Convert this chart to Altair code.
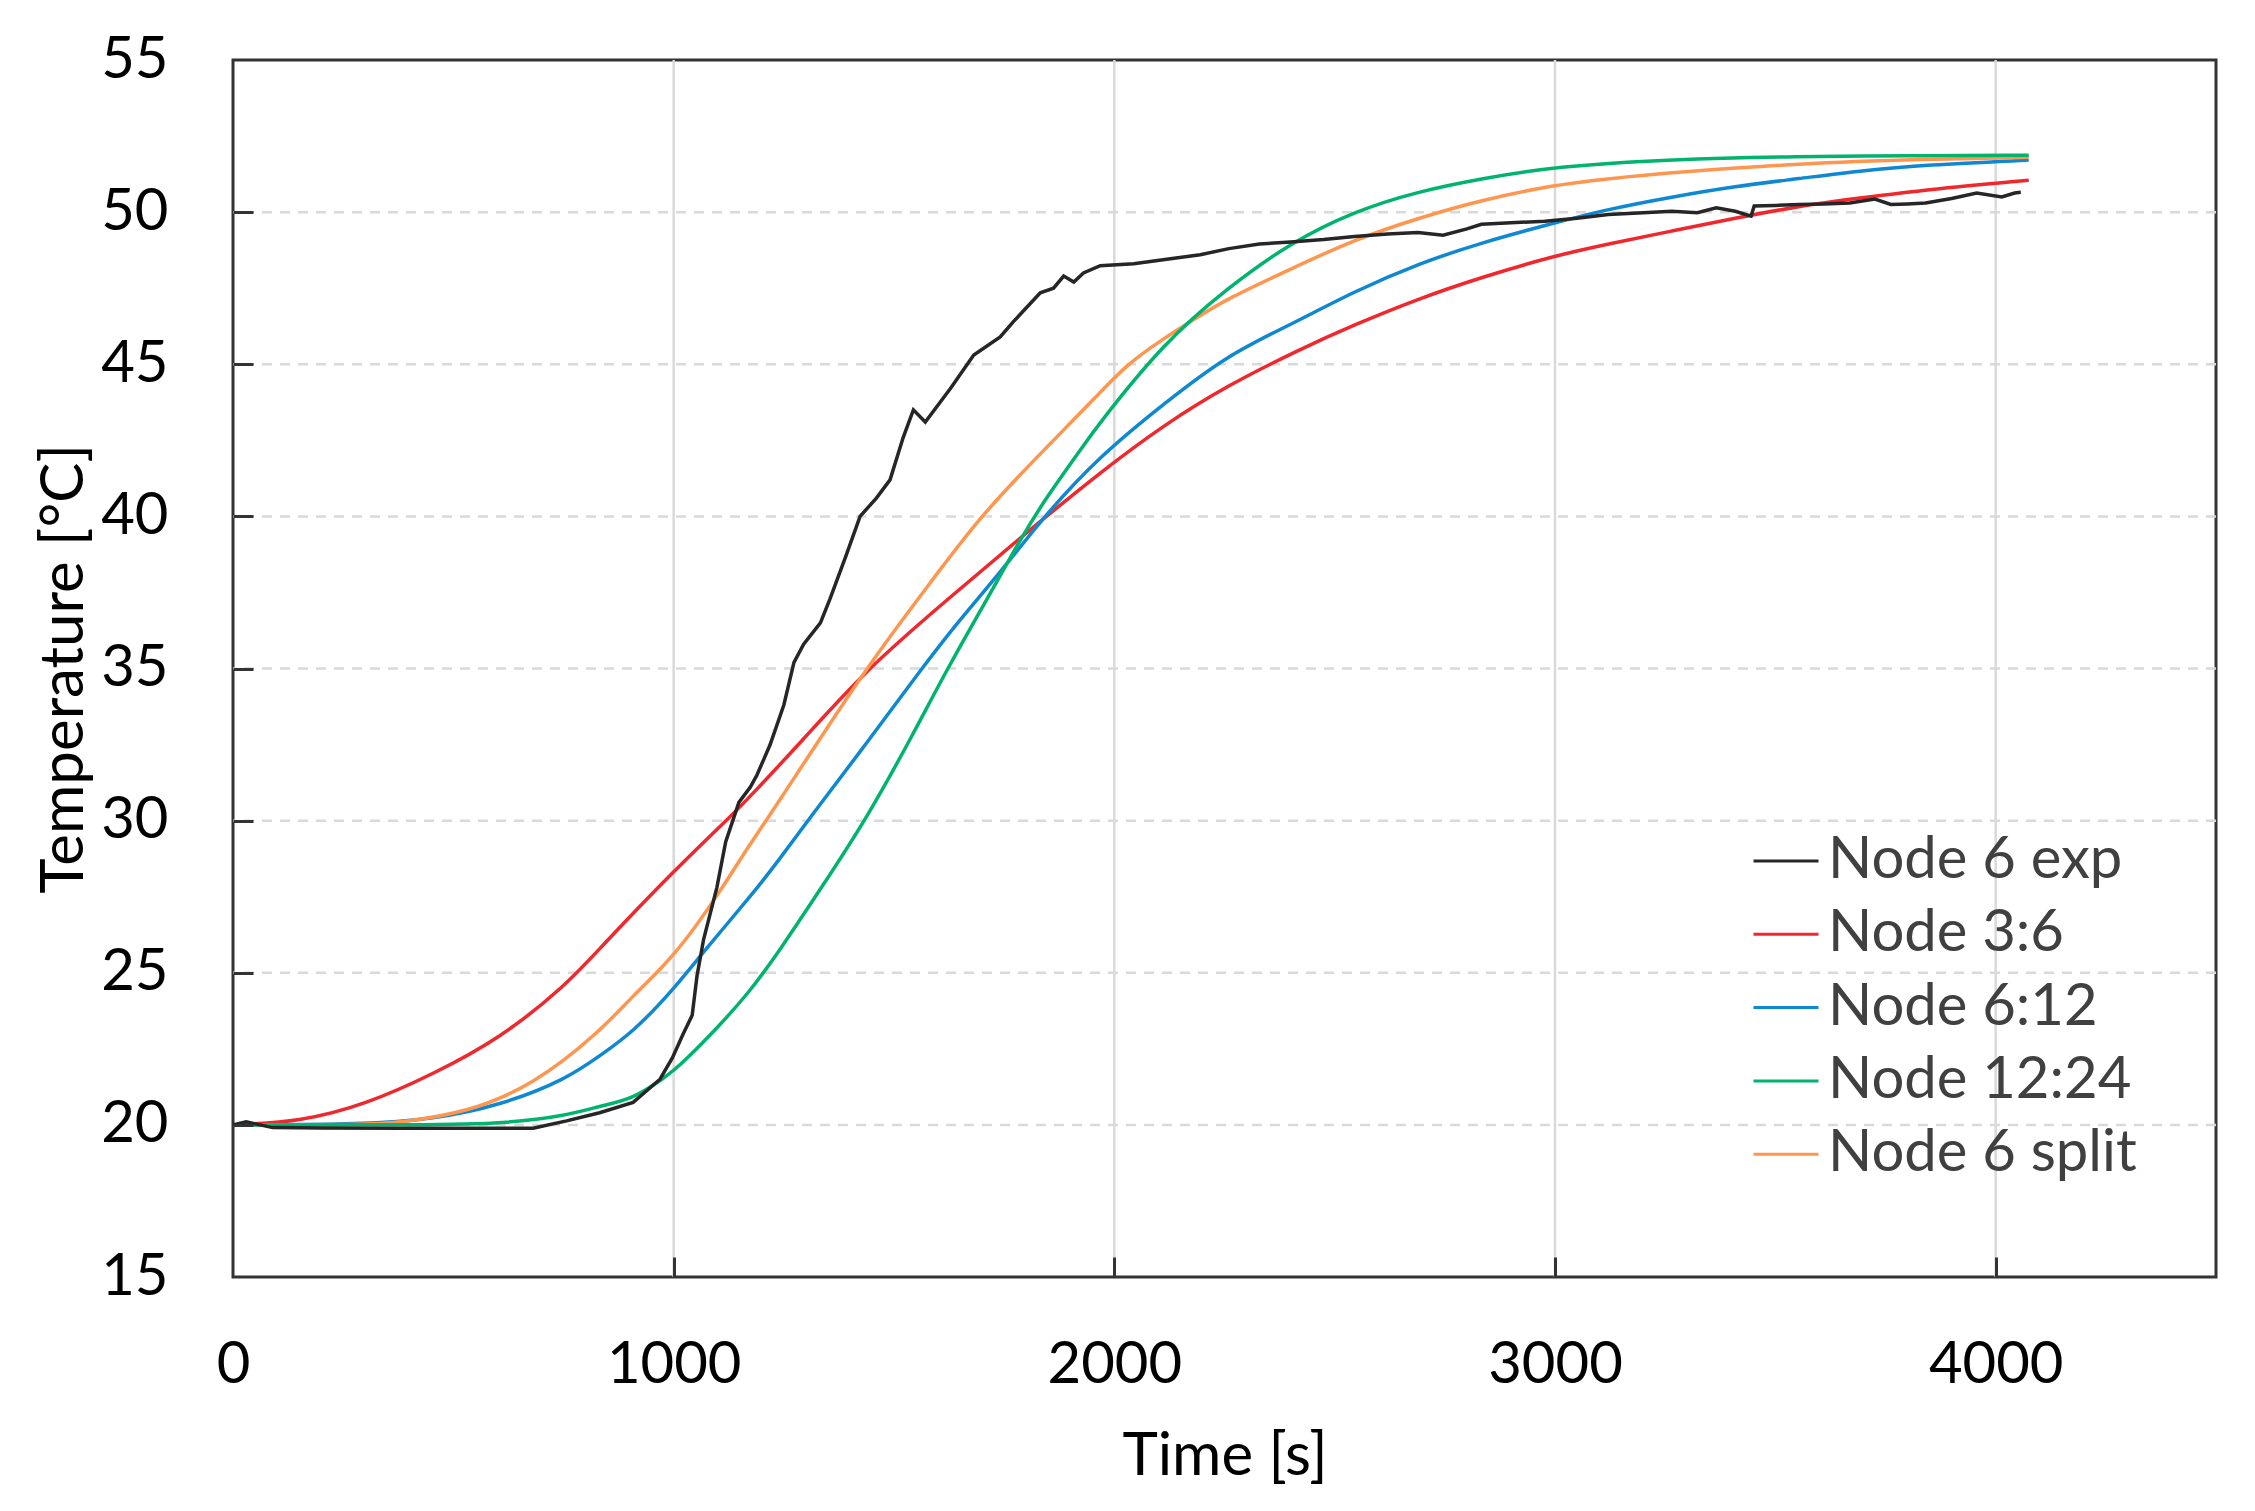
import altair as alt
import pandas as pd

# ---------------- data ----------------
series_names = ["Node 6 exp", "Node 3:6", "Node 6:12", "Node 12:24", "Node 6 split"]
series_colors = ["#262626", "#f0282d", "#0f88d2", "#00b46e", "#ff964f"]

exp_t = [0, 30, 90, 200, 378, 550, 681, 757, 832, 908, 969, 997, 1022, 1042, 1053, 1068,
         1098, 1118, 1148, 1174, 1189, 1219, 1250, 1273, 1295, 1333, 1355, 1391, 1423, 1460,
         1491, 1521, 1544, 1571, 1628, 1681, 1741, 1771, 1832, 1862, 1885, 1908, 1930, 1968,
         2044, 2119, 2195, 2260, 2329, 2400, 2475, 2545, 2620, 2689, 2746, 2800, 2833, 2900,
         2977, 3050, 3121, 3200, 3265, 3323, 3366, 3409, 3445, 3452, 3500, 3553, 3610, 3669,
         3726, 3762, 3800, 3841, 3900, 3957, 4014, 4043, 4057]
exp_T = [20.0, 20.1, 19.91, 19.9, 19.89, 19.89, 19.89, 20.13, 20.4, 20.74, 21.5, 22.2, 23.0, 23.6, 24.9, 26.1,
         27.8, 29.3, 30.6, 31.1, 31.5, 32.5, 33.8, 35.2, 35.8, 36.5, 37.3, 38.7, 40.0, 40.6,
         41.2, 42.6, 43.5, 43.1, 44.2, 45.3, 45.9, 46.4, 47.35, 47.5, 47.9, 47.7, 48.0, 48.24,
         48.3, 48.45, 48.6, 48.8, 48.95, 49.02, 49.1, 49.2, 49.28, 49.33, 49.24, 49.45, 49.6, 49.65,
         49.7, 49.8, 49.92, 49.98, 50.03, 49.98, 50.14, 50.03, 49.87, 50.2, 50.22, 50.25, 50.27, 50.3,
         50.43, 50.25, 50.27, 50.3, 50.45, 50.63, 50.5, 50.63, 50.65]

n36_t = [0, 151, 303, 454, 605, 757, 832, 1000, 1138, 1174, 1290, 1439, 1624, 1795, 1968,
         2112, 2256, 2422, 2545, 2689, 2833, 3000, 3121, 3265, 3409, 3553, 3697, 3841, 4075]
n36_T = [20.0, 20.1, 20.68, 21.67, 22.83, 24.6, 25.8, 28.35, 30.26, 30.8, 32.6, 35.0, 37.3, 39.4, 41.45,
         43.0, 44.3, 45.5, 46.3, 47.15, 47.86, 48.57, 48.95, 49.38, 49.8, 50.2, 50.47, 50.74, 51.05]

n612_t = [0, 300, 454, 605, 757, 835, 908, 1000, 1068, 1174, 1239, 1304, 1441, 1563, 1643,
          1744, 1840, 1968, 2112, 2256, 2400, 2545, 2689, 2833, 3000, 3121, 3265, 3409, 3553,
          3697, 3841, 4075]
n612_T = [20.0, 20.02, 20.19, 20.63, 21.5, 22.3, 23.05, 24.46, 25.7, 27.5, 28.7, 30.0, 32.6, 35.0, 36.5,
          38.2, 40.0, 42.0, 43.7, 45.3, 46.3, 47.4, 48.3, 49.0, 49.65, 50.1, 50.5, 50.85, 51.1,
          51.37, 51.55, 51.71]

n1224_t = [0, 378, 605, 757, 835, 908, 984, 1000, 1022, 1100, 1174, 1239, 1340, 1439, 1542,
           1621, 1712, 1795, 1845, 1926, 1968, 2112, 2256, 2400, 2545, 2689, 2833, 3000, 3265,
           3553, 3800, 4075]
n1224_T = [20.0, 20.0, 20.02, 20.3, 20.63, 20.85, 21.6, 21.8, 22.06, 23.2, 24.4, 25.7, 27.9, 30.1, 32.8,
           35.0, 37.3, 39.45, 40.6, 42.25, 43.1, 45.7, 47.5, 49.0, 50.03, 50.68, 51.1, 51.5, 51.74,
           51.83, 51.85, 51.87]

split_t = [0, 300, 378, 530, 681, 832, 908, 1000, 1103, 1174, 1211, 1435, 1556, 1694, 1845,
           1968, 2029, 2112, 2195, 2256, 2400, 2545, 2689, 2833, 3000, 3121, 3265, 3553, 3841, 4075]
split_T = [20.0, 20.0, 20.08, 20.4, 21.3, 23.05, 24.26, 25.5, 27.6, 29.26, 30.0, 35.0, 37.3, 40.0, 42.25,
           44.07, 45.0, 45.85, 46.6, 47.15, 48.13, 49.1, 49.8, 50.4, 50.9, 51.1, 51.3, 51.6, 51.74, 51.8]

x_ticks = [0, 1000, 2000, 3000, 4000]
y_ticks = [15, 20, 25, 30, 35, 40, 45, 50, 55]
x_inner_ticks = [1000, 2000, 3000, 4000]
y_inner_ticks = [20, 25, 30, 35, 40, 45, 50]
x_min, x_max = 0, 4500
y_min, y_max = 15, 55

# ---------------- build table ----------------
all_series = [
    ("Node 6 exp", exp_t, exp_T),
    ("Node 3:6", n36_t, n36_T),
    ("Node 6:12", n612_t, n612_T),
    ("Node 12:24", n1224_t, n1224_T),
    ("Node 6 split", split_t, split_T),
]
rows = []
for name, ts, vs in all_series:
    assert len(ts) == len(vs), name
    for t, v in zip(ts, vs):
        rows.append({"series": name, "t": t, "T": v})
df = pd.DataFrame(rows)

W, H = 1983, 1217
FONT = "Lato"
FRAME = "#333333"
GRID = "#d9d9d9"
TICK_LEN = 20

x_scale = alt.Scale(domain=[x_min, x_max], nice=False, zero=False)
y_scale = alt.Scale(domain=[y_min, y_max], nice=False, zero=False)

color = alt.Color(
    "series:N",
    scale=alt.Scale(domain=series_names, range=series_colors),
    sort=series_names,
    legend=alt.Legend(
        title=None,
        orient="none",
        legendX=1519,
        legendY=767,
        symbolType="stroke",
        symbolSize=4225,
        symbolStrokeWidth=3,
        labelFont=FONT,
        labelFontSize=58,
        labelColor="#404040",
        labelOffset=8,
        rowPadding=10.3,
        padding=0,
        labelLimit=600,
    ),
)

# main axes: labels and titles only
x_axis = alt.Axis(
    values=x_ticks,
    format="d",
    grid=False,
    ticks=False,
    tickSize=0,
    domain=False,
    labelFont=FONT,
    labelFontSize=58,
    labelColor="#000000",
    labelBaseline="alphabetic",
    labelPadding=105,
    labelFlush=False,
    titleFont=FONT,
    titleFontSize=60,
    titleFontWeight="normal",
    titleColor="#000000",
    titleBaseline="alphabetic",
    titleY=197,
)
y_axis = alt.Axis(
    values=y_ticks,
    format="d",
    grid=False,
    ticks=False,
    tickSize=0,
    domain=False,
    labelFont=FONT,
    labelFontSize=58,
    labelColor="#000000",
    labelPadding=65,
    labelFlush=False,
    titleFont=FONT,
    titleFontSize=60,
    titleFontWeight="normal",
    titleColor="#000000",
    titleBaseline="alphabetic",
    titleX=-151,
    titleY=H / 2,
)

# helper axes carrying only the inward ticks: a top axis moved down onto the
# bottom edge (ticks point up) and a right axis moved onto the left edge
x_tick_axis = alt.Axis(
    orient="top",
    offset=-H,
    values=x_inner_ticks,
    labels=False,
    title=None,
    grid=False,
    domain=False,
    ticks=True,
    tickSize=TICK_LEN,
    tickWidth=3,
    tickColor=FRAME,
    zindex=1,
)
y_tick_axis = alt.Axis(
    orient="right",
    offset=-W,
    values=y_inner_ticks,
    labels=False,
    title=None,
    grid=False,
    domain=False,
    ticks=True,
    tickSize=TICK_LEN,
    tickWidth=3,
    tickColor=FRAME,
    zindex=1,
)

X_TITLE = "Time [s]"
Y_TITLE = "Temperature [°C]"
x_enc = alt.X("t:Q", scale=x_scale, axis=x_axis, title=X_TITLE)
y_enc = alt.Y("T:Q", scale=y_scale, axis=y_axis, title=Y_TITLE)

xt_df = pd.DataFrame({"t": x_inner_ticks})
yt_df = pd.DataFrame({"T": y_inner_ticks})

# grid lines (beneath the curves); they also carry the inward-tick axes
x_grid_layer = alt.Chart(xt_df).mark_rule(color=GRID, strokeWidth=2.5).encode(
    x=alt.X("t:Q", scale=x_scale, axis=x_tick_axis)
)
y_grid_layer = alt.Chart(yt_df).mark_rule(color=GRID, strokeWidth=2.5, strokeDash=[10, 8]).encode(
    y=alt.Y("T:Q", scale=y_scale, axis=y_tick_axis)
)

draw_order = ["Node 3:6", "Node 6:12", "Node 6 split", "Node 12:24", "Node 6 exp"]
line_layers = []
for name in draw_order:
    interp = "linear" if name == "Node 6 exp" else "basis"
    line_layers.append(
        alt.Chart(df)
        .transform_filter(alt.datum.series == name)
        .mark_line(strokeWidth=3.5, interpolate=interp)
        .encode(x=x_enc, y=y_enc, color=color, order=alt.Order("t:Q"))
    )
lines = alt.layer(*line_layers)

chart = (
    alt.layer(x_grid_layer, y_grid_layer, lines)
    .resolve_axis(x="independent", y="independent")
    .properties(
        width=W,
        height=H,
        padding={"left": 225, "top": 52, "right": 31, "bottom": 226},
        autosize=alt.AutoSizeParams(type="none"),
        background="white",
    )
    .configure_view(stroke=FRAME, strokeWidth=3)
)

chart.save("out.html", embed_options={"renderer": "svg", "actions": False})
